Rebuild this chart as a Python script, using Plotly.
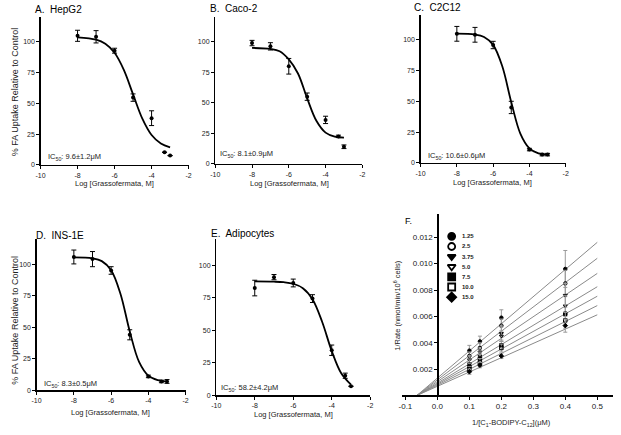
import plotly.graph_objects as go

W, H = 621, 435
FONT = "Liberation Sans, Arial, sans-serif"

# ---------------- data: dose-response panels ----------------
LOG_DOSE = [-8, -7, -6, -5, -4, -3.3, -3]
CURVE_X = [-8, -7, -6.5, -6, -5.5, -5, -4.5, -4, -3.5, -3]
X_TICKS = [-10, -8, -6, -4, -2]
X_TICK_TEXT = ["-10", "-8", "-6", "-4", "-2"]
Y_TICKS = [0, 25, 50, 75, 100]
Y_TICK_TEXT = ["0", "25", "50", "75", "100"]

A_Y = [104.8, 104.0, 92.7, 54.6, 37.9, 10.2, 7.5]
A_ERR = [4.5, 5.0, 2.0, 3.0, 6.0, 0, 0]
A_CURVE = [103.6, 101.7, 98.3, 91.0, 77.1, 57.2, 37.5, 24.2, 17.3, 14.2]

B_Y = [98.9, 96.2, 79.9, 55.0, 36.0, 22.5, 14.0]
B_ERR = [2.2, 3.0, 6.4, 3.0, 3.0, 1.0, 1.5]
B_CURVE = [94.9, 94.1, 92.2, 85.5, 74.0, 53.6, 35.3, 25.6, 22.3, 21.5]

C_Y = [104.8, 104.0, 95.7, 45.0, 10.8, 6.7, 6.7]
C_ERR = [6.0, 6.0, 3.0, 5.0, 1.0, 1.0, 1.0]
C_CURVE = [104.9, 104.2, 102.2, 95.8, 78.6, 49.3, 23.8, 11.8, 7.7, 6.5]

D_Y = [105.7, 104.0, 95.0, 44.0, 11.0, 7.0, 7.0]
D_ERR = [5.5, 6.0, 3.0, 4.0, 1.0, 1.0, 1.5]
D_CURVE = [105.4, 104.6, 102.4, 95.2, 76.6, 46.7, 22.5, 11.6, 8.0, 6.9]

E_Y = [82.4, 90.8, 86.3, 74.3, 34.6, 15.0, 6.9]
E_ERR = [6.0, 2.0, 3.0, 3.0, 4.0, 2.0, 0]
E_CURVE = [87.5, 87.3, 86.9, 85.7, 82.3, 73.8, 56.5, 34.0, 16.7, 8.2]

TITLES = ["A.  HepG2", "B.  Caco-2", "C.  C2C12", "D.  INS-1E", "E.  Adipocytes"]
IC50_TEXT = ["IC<sub>50</sub>: 9.6±1.2μM", "IC<sub>50</sub>: 8.1±0.9μM",
             "IC<sub>50</sub>: 10.6±0.6μM", "IC<sub>50</sub>: 8.3±0.5μM",
             "IC<sub>50</sub>: 58.2±4.2μM"]

# ---------------- data: panel F (double reciprocal) ----------------
F_X = [0.1, 0.133, 0.2, 0.4]
CONC_LABELS = ["1.25", "2.5", "3.75", "5.0", "7.5", "10.0", "15.0"]
RATE_1_25 = [0.0034, 0.0041, 0.0059, 0.0096]
RATE_2_5 = [0.0030, 0.0036, 0.0053, 0.0085]
RATE_3_75 = [0.0027, 0.0033, 0.0047, 0.0076]
RATE_5_0 = [0.0024, 0.0030, 0.0045, 0.0068]
RATE_7_5 = [0.0022, 0.0028, 0.0038, 0.0062]
RATE_10_0 = [0.0020, 0.0025, 0.0036, 0.0057]
RATE_15_0 = [0.0018, 0.0023, 0.0030, 0.0053]
ERR_1_25 = [0.0004, 0.0004, 0.0006, 0.0014]
ERR_2_5 = [0.0003, 0.0004, 0.0005, 0.0010]
ERR_3_75 = [0.0003, 0.0003, 0.0005, 0.0009]
ERR_5_0 = [0.0003, 0.0003, 0.0004, 0.0008]
ERR_7_5 = [0.0002, 0.0003, 0.0003, 0.0007]
ERR_10_0 = [0.0002, 0.0003, 0.0003, 0.0006]
ERR_15_0 = [0.0002, 0.0002, 0.0002, 0.0005]
FIT_X = [-0.064, 0.5]
FIT_START_Y = [0, 0, 0, 0, 0, 0, 0]
FIT_END_Y = [0.01162, 0.01041, 0.00926, 0.00825, 0.00753, 0.00682, 0.00612]
F_X_TICKS = [-0.1, 0.0, 0.1, 0.2, 0.3, 0.4, 0.5]
F_X_TICK_TEXT = ["-0.1", "0.0", "0.1", "0.2", "0.3", "0.4", "0.5"]
F_Y_TICKS = [0.002, 0.004, 0.006, 0.008, 0.010, 0.012]
F_Y_TICK_TEXT = ["0.002", "0.004", "0.006", "0.008", "0.010", "0.012"]

SYMBOLS = ["circle", "circle-open", "triangle-down", "triangle-down-open",
           "square", "square-open", "diamond"]

# ---------------- layout geometry (pixels) ----------------
PANELS = [
    dict(x0=36, x1=186, yb=166, ppu=1.24, title=(28, 10), ic=(42, 158), xt=(111, 184.5), yt=(10, 92)),
    dict(x0=213, x1=362, yb=165, ppu=1.23, title=(206, 9), ic=(216, 155), xt=(288, 184.5), yt=None),
    dict(x0=421, x1=568, yb=164, ppu=1.24, title=(412, 8), ic=(426, 157), xt=(494, 184), yt=None),
    dict(x0=32, x1=183, yb=393, ppu=1.27, title=(29, 237), ic=(37, 387), xt=(107, 415.5), yt=(10, 322)),
    dict(x0=214, x1=370, yb=398, ppu=1.31, title=(207, 235), ic=(217, 391), xt=(292, 417), yt=None),
]
Y_MAX = 120


def fx(p):
    return p / W


def fy(p):
    return 1 - p / H


fig = go.Figure()
layout = dict(width=W, height=H, margin=dict(l=0, r=0, t=0, b=0),
              paper_bgcolor="white", plot_bgcolor="rgba(0,0,0,0)",
              showlegend=False, font=dict(family=FONT, color="black"))
annotations = []

axis_common = dict(showline=True, linecolor="black", linewidth=1.3, ticks="outside",
                   ticklen=3, tickwidth=1, tickcolor="black", showgrid=False,
                   zeroline=False, fixedrange=True,
                   tickfont=dict(size=7, family=FONT, color="#222"))

panel_data = [(A_Y, A_ERR, A_CURVE), (B_Y, B_ERR, B_CURVE), (C_Y, C_ERR, C_CURVE),
              (D_Y, D_ERR, D_CURVE), (E_Y, E_ERR, E_CURVE)]

for i, (p, (ys, errs, curve)) in enumerate(zip(PANELS, panel_data), start=1):
    xa, ya = f"x{i}", f"y{i}"
    ytop = p["yb"] - Y_MAX * p["ppu"]
    layout[f"xaxis{i}"] = dict(axis_common, domain=[fx(p["x0"]), fx(p["x1"])],
                               range=[-10, -2], anchor=ya, tickvals=X_TICKS,
                               ticktext=X_TICK_TEXT)
    layout[f"yaxis{i}"] = dict(axis_common, domain=[fy(p["yb"]), fy(ytop)],
                               range=[0, Y_MAX], anchor=xa, tickvals=Y_TICKS,
                               ticktext=Y_TICK_TEXT)
    fig.add_trace(go.Scatter(x=CURVE_X, y=curve, mode="lines", xaxis=xa, yaxis=ya,
                             line=dict(color="black", width=1.8, shape="spline", smoothing=1.0),
                             hoverinfo="skip"))
    fig.add_trace(go.Scatter(x=LOG_DOSE, y=ys, mode="markers", xaxis=xa, yaxis=ya,
                             marker=dict(symbol="circle", size=4, color="black"),
                             error_y=dict(type="data", array=errs, color="black",
                                          thickness=1, width=2.5),
                             cliponaxis=False))
    annotations.append(dict(text=TITLES[i - 1], x=fx(p["title"][0]), y=fy(p["title"][1]),
                            xref="paper", yref="paper", xanchor="left", yanchor="middle",
                            showarrow=False, font=dict(size=10, family=FONT)))
    annotations.append(dict(text=IC50_TEXT[i - 1], x=fx(p["ic"][0]), y=fy(p["ic"][1]),
                            xref="paper", yref="paper", xanchor="left", yanchor="middle",
                            showarrow=False, font=dict(size=7.5, family=FONT, color="#222")))
    annotations.append(dict(text="Log [Grassofermata, M]", x=fx(p["xt"][0]), y=fy(p["xt"][1]),
                            xref="paper", yref="paper", xanchor="center", yanchor="middle",
                            showarrow=False, font=dict(size=7.5, family=FONT, color="#222")))
    if p["yt"]:
        annotations.append(dict(text="% FA Uptake Relative to Control", x=fx(p["yt"][0]),
                                y=fy(p["yt"][1]), xref="paper", yref="paper",
                                xanchor="center", yanchor="middle", textangle=-90,
                                showarrow=False, font=dict(size=9, family=FONT, color="#222")))

# ---------------- panel F ----------------
F_X_RANGE = [-0.11, 0.55]
F_Y_RANGE = [0, 0.0138]
F_LEFT, F_RIGHT, F_YAXIS_PX = 402.4, 616.2, 438
F_BOTTOM, F_TOP = 398.2, 398.2 - 0.0138 * 13270

layout["xaxis6"] = dict(axis_common, domain=[fx(F_LEFT), fx(F_RIGHT)], range=F_X_RANGE,
                        anchor="y6", tickvals=F_X_TICKS, ticktext=F_X_TICK_TEXT,
                        tickfont=dict(size=8, family=FONT, color="#222"))
layout["yaxis6"] = dict(axis_common, domain=[fy(F_BOTTOM), fy(F_TOP)], range=F_Y_RANGE,
                        anchor="free", position=fx(F_YAXIS_PX), tickvals=F_Y_TICKS,
                        ticktext=F_Y_TICK_TEXT,
                        tickfont=dict(size=8, family=FONT, color="#222"))

rates = [RATE_1_25, RATE_2_5, RATE_3_75, RATE_5_0, RATE_7_5, RATE_10_0, RATE_15_0]
errs_f = [ERR_1_25, ERR_2_5, ERR_3_75, ERR_5_0, ERR_7_5, ERR_10_0, ERR_15_0]

for k in range(len(CONC_LABELS)):
    fig.add_trace(go.Scatter(x=FIT_X, y=[FIT_START_Y[k], FIT_END_Y[k]], mode="lines",
                             xaxis="x6", yaxis="y6",
                             line=dict(color="#8a8a8a", width=1), hoverinfo="skip"))
for k in range(len(CONC_LABELS)):
    fig.add_trace(go.Scatter(x=F_X, y=rates[k], mode="markers", xaxis="x6", yaxis="y6",
                             name=CONC_LABELS[k],
                             marker=dict(symbol=SYMBOLS[k], size=3.5, color="black",
                                         line=dict(color="black", width=1)),
                             error_y=dict(type="data", array=errs_f[k], color="#9a9a9a",
                                          thickness=1, width=2)))

# legend for F drawn on a full-figure pixel overlay
layout["xaxis7"] = dict(domain=[0, 1], range=[0, W], visible=False, fixedrange=True, anchor="y7")
layout["yaxis7"] = dict(domain=[0, 1], range=[H, 0], visible=False, fixedrange=True, anchor="x7")
LEG_X, LEG_Y0, LEG_STEP = 452.5, 238, 10.2
leg_y = [LEG_Y0 + LEG_STEP * k for k in range(len(CONC_LABELS))]
fig.add_trace(go.Scatter(x=[LEG_X] * len(CONC_LABELS), y=leg_y, mode="markers",
                         xaxis="x7", yaxis="y7", hoverinfo="skip",
                         marker=dict(symbol=SYMBOLS, size=7, color="black",
                                     line=dict(color="black", width=1.8))))
for k, lab in enumerate(CONC_LABELS):
    annotations.append(dict(text=f"<b>{lab}</b>", x=fx(LEG_X + 8), y=fy(leg_y[k]),
                            xref="paper", yref="paper", xanchor="left", yanchor="middle",
                            showarrow=False, font=dict(size=6, family=FONT, color="#222")))

annotations.append(dict(text="F.", x=fx(403), y=fy(223), xref="paper", yref="paper",
                        xanchor="left", yanchor="middle", showarrow=False,
                        font=dict(size=9, family=FONT)))
annotations.append(dict(text="1/Rate (nmol/min/10<sup>6</sup> cells)", x=fx(397), y=fy(307),
                        xref="paper", yref="paper", xanchor="center", yanchor="middle",
                        textangle=-90, showarrow=False,
                        font=dict(size=7.5, family=FONT, color="#222")))
annotations.append(dict(text="1/[C<sub>1</sub>-BODIPY-C<sub>12</sub>](μM)", x=fx(513), y=fy(425.5),
                        xref="paper", yref="paper", xanchor="center", yanchor="middle",
                        showarrow=False, font=dict(size=7.5, family=FONT, color="#222")))

layout["annotations"] = annotations
fig.update_layout(**layout)
fig.write_html("out.html", config={"displayModeBar": False, "staticPlot": True},
               post_script="document.body.style.margin='0';document.body.style.overflow='hidden';")
